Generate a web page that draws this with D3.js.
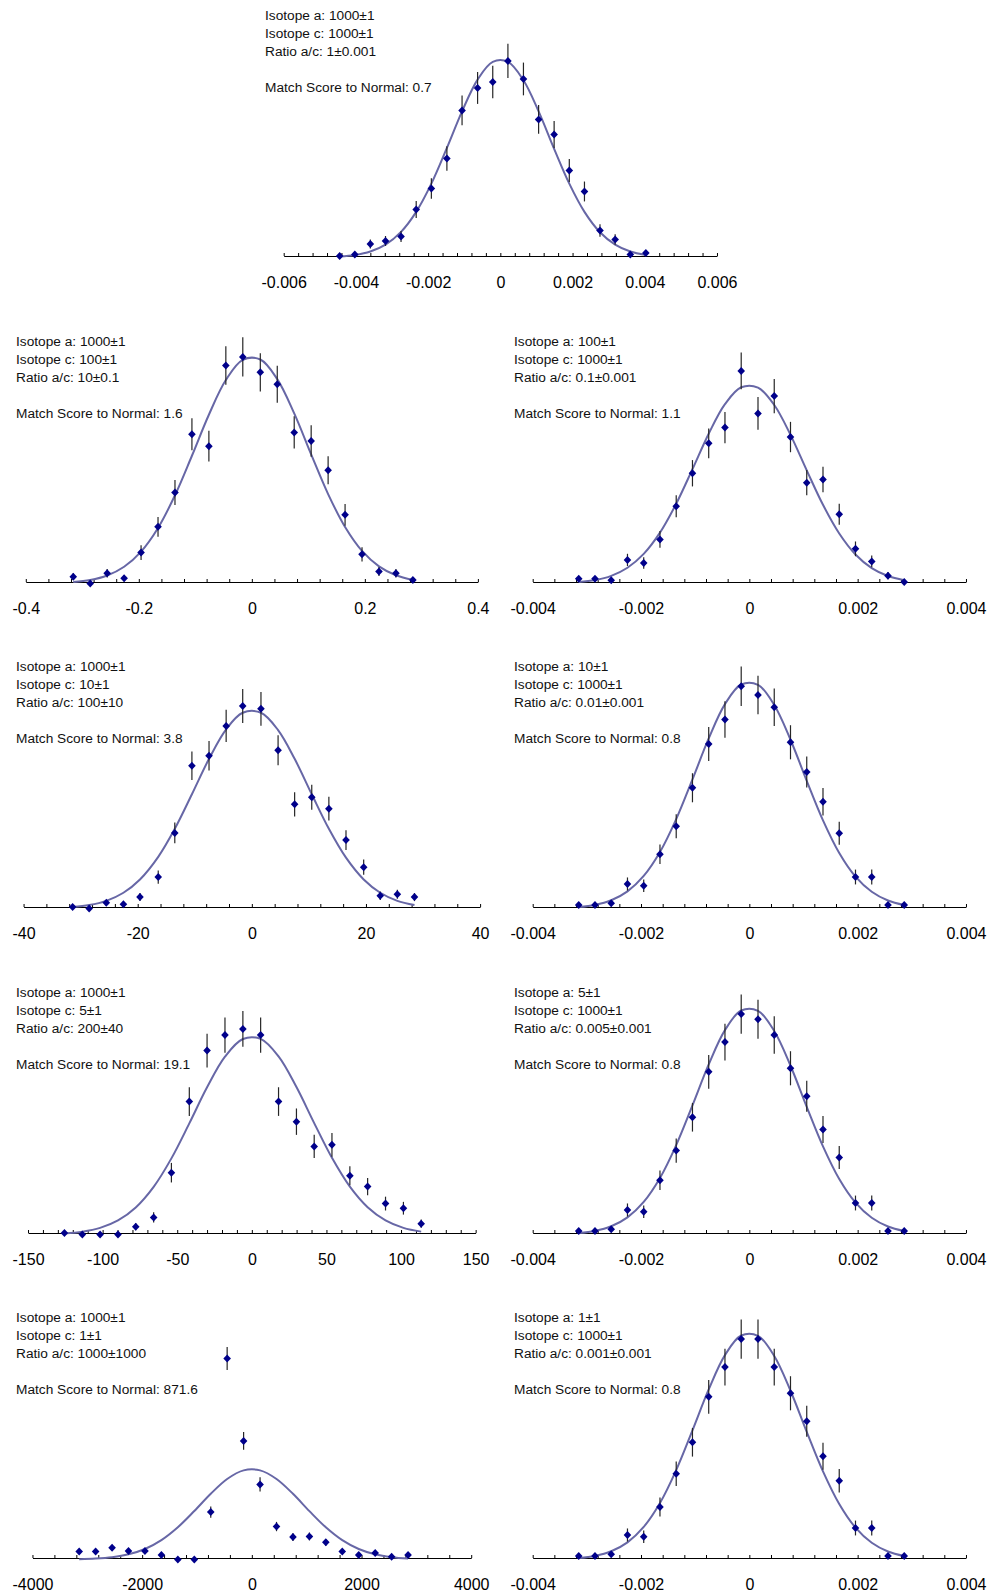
<!DOCTYPE html>
<html>
<head>
<meta charset="utf-8">
<script src="https://cdnjs.cloudflare.com/ajax/libs/d3/7.8.5/d3.min.js"></script>
<style>
  body { margin: 0; background: #fff; }
  svg { display: block; font-family: "Liberation Sans", Arial, sans-serif; }
</style>
</head>
<body>
<div id="chart"></div>
<script>

let width = 989;
let height = 1596;

// text of each panel (reading order: top, then left/right per row)
let isotopeA = ["1000±1", "1000±1", "100±1", "1000±1", "10±1", "1000±1", "5±1", "1000±1", "1±1"];
let isotopeC = ["1000±1", "100±1", "1000±1", "10±1", "1000±1", "5±1", "1000±1", "1±1", "1000±1"];
let ratioAC = ["1±0.001", "10±0.1", "0.1±0.001", "100±10", "0.01±0.001", "200±40", "0.005±0.001", "1000±1000", "0.001±0.001"];
let matchScore = ["0.7", "1.6", "1.1", "3.8", "0.8", "19.1", "0.8", "871.6", "0.8"];

// x axis major ticks + labels
let ticksTop = [-0.006, -0.004, -0.002, 0, 0.002, 0.004, 0.006];
let labelsTop = ["-0.006", "-0.004", "-0.002", "0", "0.002", "0.004", "0.006"];
let ticksSmall = [-0.004, -0.002, 0, 0.002, 0.004];
let labelsSmall = ["-0.004", "-0.002", "0", "0.002", "0.004"];
let ticks10 = [-0.4, -0.2, 0, 0.2, 0.4];
let labels10 = ["-0.4", "-0.2", "0", "0.2", "0.4"];
let ticks100 = [-40, -20, 0, 20, 40];
let labels100 = ["-40", "-20", "0", "20", "40"];
let ticks200 = [-150, -100, -50, 0, 50, 100, 150];
let labels200 = ["-150", "-100", "-50", "0", "50", "100", "150"];
let ticks1000 = [-4000, -2000, 0, 2000, 4000];
let labels1000 = ["-4000", "-2000", "0", "2000", "4000"];

// bin centres
let binsTop = [-0.00445, -0.00403, -0.0036, -0.00318, -0.00275, -0.00233, -0.00191, -0.00148, -0.00106, -0.00063, -0.00021,
  0.00021, 0.00064, 0.00106, 0.00149, 0.00191, 0.00233, 0.00276, 0.00318, 0.0036, 0.00403];
let bins10 = [-0.316, -0.286, -0.256, -0.226, -0.196, -0.166, -0.136, -0.106, -0.076, -0.046, -0.016,
  0.015, 0.045, 0.075, 0.105, 0.135, 0.165, 0.195, 0.225, 0.255, 0.285];
let binsSmall = [-0.00315, -0.00285, -0.00255, -0.00225, -0.00195, -0.00165, -0.00135, -0.00105, -0.00075, -0.00045, -0.00015,
  0.00016, 0.00046, 0.00076, 0.00106, 0.00136, 0.00166, 0.00196, 0.00226, 0.00256, 0.00286];
let bins100 = [-31.4, -28.5, -25.5, -22.5, -19.6, -16.4, -13.5, -10.5, -7.5, -4.5, -1.6,
  1.6, 4.6, 7.5, 10.5, 13.5, 16.5, 19.6, 22.5, 25.5, 28.5];
let bins200 = [-125.6, -113.6, -101.7, -89.7, -77.8, -65.8, -53.9, -41.9, -30, -18, -6,
  5.9, 17.9, 29.9, 41.8, 53.7, 65.7, 77.6, 89.6, 101.6, 113.5];
let bins1000 = [-3148, -2848, -2548, -2249, -1949, -1649, -1349, -1049, -749, -450, -150,
  150, 450, 750, 1050, 1349, 1649, 1949, 2249, 2549, 2849];

// counts per bin
let countsTop = [1, 2, 9, 11, 14, 32, 46, 66, 98, 113, 117, 131, 119, 92, 82, 58, 44, 18, 12, 2, 3];
let counts10 = [4, 0, 6, 3, 18, 33, 53, 87, 80, 127, 132, 123, 116, 88, 83, 66, 40, 17, 7, 6, 2];
let counts01 = [3, 3, 2, 15, 13, 28, 49, 70, 89, 99, 135, 108, 119, 93, 64, 66, 44, 22, 14, 5, 1];
let counts100 = [1, 0, 4, 3, 8, 22, 53, 100, 107, 128, 142, 140, 111, 73, 78, 70, 48, 29, 9, 10, 8];
let counts001 = [2, 2, 3, 14, 13, 31, 47, 69, 94, 108, 127, 122, 115, 95, 78, 61, 43, 18, 18, 2, 2];
let counts200 = [1, 0, 0, 0, 5, 11, 40, 86, 119, 129, 133, 129, 86, 73, 57, 58, 38, 31, 20, 17, 7];
let counts0005 = [2, 2, 3, 14, 13, 31, 48, 67, 93, 110, 126, 123, 114, 95, 79, 60, 44, 18, 18, 2, 2];
let counts1000 = [12, 12, 18, 13, 13, 7, 0, 0, 72, 305, 180, 114, 50, 34, 35, 26, 12, 7, 10, 4, 7];
let counts0001 = [2, 2, 3, 14, 13, 30, 49, 67, 93, 110, 126, 126, 110, 95, 79, 59, 45, 18, 18, 2, 2];

// fitted normal: mean, sd, peak height (counts)
let fitMean = [0, 0, 0, 0, 0, 0, 0, 0, 0];
let fitSd = [0.00136, 0.099, 0.001, 10, 0.00099, 39, 0.00099, 940, 0.00099];
let fitPeak = [132, 132, 126, 139, 129.5, 128, 129.5, 137, 129.5];

// top of the (hidden) y axis for each panel
let yTop = [133.3, 116.5, 127, 140.2, 114.3, 129.4, 114.3, 303.5, 114.3];

let panels = [
  { bins: binsTop, counts: countsTop, ticks: ticksTop, labels: labelsTop },
  { bins: bins10, counts: counts10, ticks: ticks10, labels: labels10 },
  { bins: binsSmall, counts: counts01, ticks: ticksSmall, labels: labelsSmall },
  { bins: bins100, counts: counts100, ticks: ticks100, labels: labels100 },
  { bins: binsSmall, counts: counts001, ticks: ticksSmall, labels: labelsSmall },
  { bins: bins200, counts: counts200, ticks: ticks200, labels: labels200 },
  { bins: binsSmall, counts: counts0005, ticks: ticksSmall, labels: labelsSmall },
  { bins: bins1000, counts: counts1000, ticks: ticks1000, labels: labels1000 },
  { bins: binsSmall, counts: counts0001, ticks: ticksSmall, labels: labelsSmall }
];

// layout
let boxes = { top: [261, 737], left: [12, 489], right: [510, 986] };
let panelCol = ["top", "left", "right", "left", "right", "left", "right", "left", "right"];
let panelRow = [0, 1, 1, 2, 2, 3, 3, 4, 4];
let axisY = [256, 582, 907, 1233, 1558];
let plotH = 200;

let svg = d3.select('#chart').append('svg')
  .attr('width', width)
  .attr('height', height);

svg.append('rect').attr('width', width).attr('height', height).attr('fill', '#fff');

// measure tick label width so the axis ends fit inside the box
let measure = svg.append('text').attr('font-size', 16).attr('visibility', 'hidden');
function textW(s) {
  measure.text(s);
  return measure.node().getComputedTextLength();
}

let diamond = "M0,-4L3.8,0L0,4L-3.8,0Z";

panels.forEach(function(p, i) {
  let box = boxes[panelCol[i]];
  let ay = axisY[panelRow[i]];
  let first = p.labels[0], last = p.labels[p.labels.length - 1];

  let x = d3.scaleLinear()
    .domain([p.ticks[0], p.ticks[p.ticks.length - 1]])
    .range([box[0] + textW(first) / 2, box[1] - textW(last) / 2]);

  let y = d3.scaleLinear()
    .domain([0, yTop[i]])
    .range([ay + 1.5, ay + 1.5 - plotH]);

  let g = svg.append('g');

  // minor ticks: five per labelled interval
  let minor = [];
  p.ticks.forEach(function(t, j) {
    if (j < p.ticks.length - 1) {
      let step = (p.ticks[j + 1] - t) / 5;
      for (let k = 0; k < 5; k++) minor.push(t + k * step);
    } else {
      minor.push(t);
    }
  });

  let axis = d3.axisBottom(x)
    .tickValues(minor)
    .tickSizeInner(-3)
    .tickSizeOuter(0)
    .tickPadding(21)
    .tickFormat(function(d, j) { return j % 5 === 0 ? p.labels[j / 5] : ""; });

  let ax = g.append('g')
    .attr('transform', 'translate(0,' + ay + ')')
    .call(axis);
  ax.select('.domain').attr('stroke', '#000');
  ax.selectAll('.tick line').attr('stroke', '#000');
  ax.selectAll('.tick text')
    .attr('font-size', 16)
    .attr('font-family', '"Liberation Sans", Arial, sans-serif')
    .attr('fill', '#000');

  // fitted normal curve through the bin centres
  let curve = p.bins.map(function(b) {
    let z = (b - fitMean[i]) / fitSd[i];
    return [b, fitPeak[i] * Math.exp(-0.5 * z * z)];
  });
  g.append('path')
    .datum(curve)
    .attr('fill', 'none')
    .attr('stroke', '#6767a6')
    .attr('stroke-width', 2)
    .attr('d', d3.line()
      .curve(d3.curveCatmullRom.alpha(0.5))
      .x(function(d) { return x(d[0]); })
      .y(function(d) { return y(d[1]); }));

  let pts = p.bins.map(function(b, j) { return { x: b, n: p.counts[j] }; });

  // poisson error bars
  g.selectAll('.err')
    .data(pts.filter(function(d) { return d.n > 0; }))
    .enter()
    .append('line').classed('err', true)
    .attr('x1', function(d) { return x(d.x); })
    .attr('x2', function(d) { return x(d.x); })
    .attr('y1', function(d) { return y(d.n - Math.sqrt(d.n)); })
    .attr('y2', function(d) { return y(d.n + Math.sqrt(d.n)); })
    .attr('stroke', '#262626')
    .attr('stroke-width', 1.2);

  g.selectAll('.pt')
    .data(pts)
    .enter()
    .append('path').classed('pt', true)
    .attr('d', diamond)
    .attr('transform', function(d) { return 'translate(' + x(d.x) + ',' + y(d.n) + ')'; })
    .attr('fill', '#00008b');

  // annotation
  let tx = box[0] + 4;
  let ty = ay - 236;
  let lines = [
    ["Isotope a: " + isotopeA[i], 0],
    ["Isotope c: " + isotopeC[i], 18],
    ["Ratio a/c: " + ratioAC[i], 36],
    ["Match Score to Normal: " + matchScore[i], 72]
  ];
  g.selectAll('.note')
    .data(lines)
    .enter()
    .append('text').classed('note', true)
    .attr('x', tx)
    .attr('y', function(d) { return ty + d[1]; })
    .attr('font-size', 13.7)
    .attr('fill', '#111')
    .text(function(d) { return d[0]; });
});

measure.remove();

</script>
</body>
</html>
